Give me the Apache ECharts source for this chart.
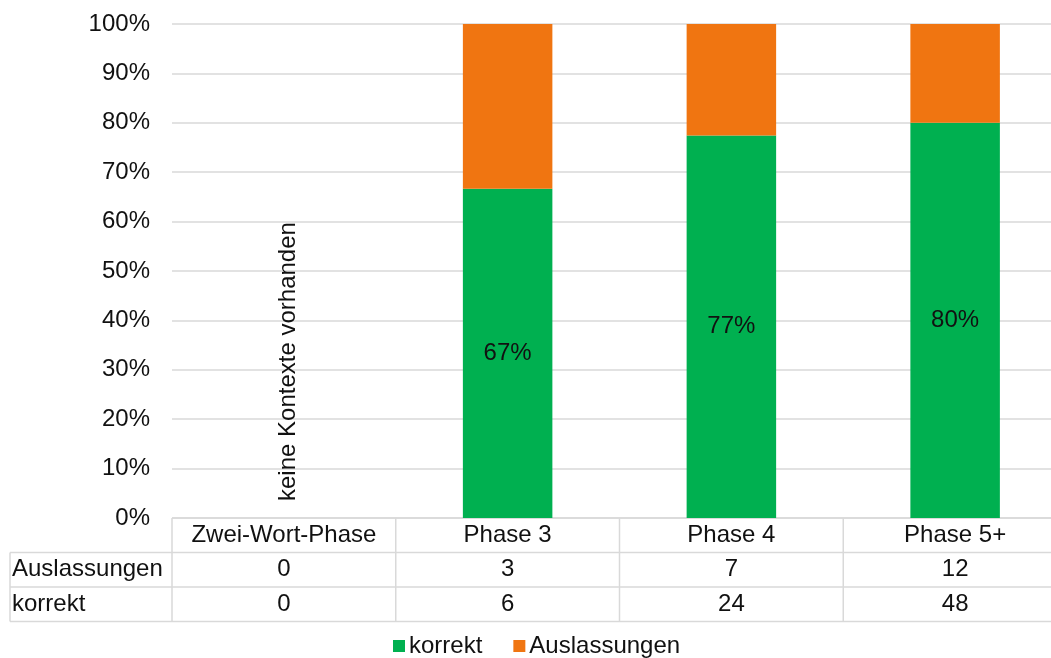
<!DOCTYPE html>
<html>
<head>
<meta charset="utf-8">
<script src="https://cdn.jsdelivr.net/npm/echarts@6/dist/echarts.min.js"></script>
<style>
  html, body { margin: 0; padding: 0; background: #fff; }
  #chart { width: 1051px; height: 658px; }
</style>
</head>
<body>
<div id="chart"></div>
<script>
// Phases and raw counts per category
const categories = ['Zwei-Wort-Phase', 'Phase 3', 'Phase 4', 'Phase 5+'];
const auslassungen = [0, 3, 7, 12];
const korrekt = [0, 6, 24, 48];
const yTicks = ['0%', '10%', '20%', '30%', '40%', '50%', '60%', '70%', '80%', '90%', '100%'];
const noDataNote = 'keine Kontexte vorhanden';

const GREEN = '#00B050';
const ORANGE = '#F07511';
const LINE = '#d9d9d9';
const FONT = '"Liberation Sans", Arial, sans-serif';
const FS = 24;

// shares of each category total (100% stacked)
const totals = categories.map((_, i) => korrekt[i] + auslassungen[i]);
const korrektShare = totals.map((t, i) => t ? korrekt[i] / t : 0);
const auslShare = totals.map((t, i) => t ? auslassungen[i] / t : 0);

const chart = echarts.init(document.getElementById('chart'));

chart.setOption({
  animation: false,
  textStyle: { fontFamily: FONT },
  // the last column runs slightly past the right edge of the canvas
  grid: { left: 172, width: 895, top: 24, bottom: 140, outerBoundsMode: 'none', containLabel: false },
  xAxis: {
    type: 'category',
    data: categories,
    axisLine: { show: false },
    axisTick: { show: false },
    axisLabel: { show: false }
  },
  yAxis: {
    type: 'value',
    min: 0,
    max: 1,
    interval: 0.1,
    axisLine: { show: false },
    axisTick: { show: false },
    axisLabel: {
      margin: 22,
      fontSize: FS,
      color: '#111',
      fontFamily: FONT,
      formatter: v => yTicks[Math.round(v * 10)]
    },
    splitLine: { lineStyle: { color: LINE, width: 1.5 } }
  },
  legend: {
    top: 629,
    left: 388,
    itemWidth: 12,
    itemHeight: 12,
    itemGap: 31,
    icon: 'rect',
    textStyle: { fontSize: FS, color: '#111', fontFamily: FONT, padding: [0, 0, 0, -1] },
    data: ['korrekt', 'Auslassungen']
  },
  series: [
    {
      name: 'korrekt',
      type: 'bar',
      stack: 'total',
      barWidth: '40%',
      itemStyle: { color: GREEN },
      label: {
        show: true,
        position: 'inside',
        fontSize: 24,
        color: '#111',
        fontFamily: FONT,
        formatter: p => p.value > 0 ? Math.round(p.value * 100) + '%' : ''
      },
      data: korrektShare
    },
    {
      name: 'Auslassungen',
      type: 'bar',
      stack: 'total',
      barWidth: '40%',
      itemStyle: { color: ORANGE },
      data: auslShare
    }
  ]
});

// Data table beneath the plot, aligned to the category axis
function buildTable() {
  const g = [];
  const x = i => chart.convertToPixel({ xAxisIndex: 0 }, i);
  const y0 = chart.convertToPixel({ yAxisIndex: 0 }, 0);
  const step = x(1) - x(0);
  const plotLeft = x(0) - step / 2;
  const plotRight = x(categories.length - 1) + step / 2;
  const rowH = 34.5;
  const rows = [y0, y0 + rowH, y0 + 2 * rowH, y0 + 3 * rowH];
  const tableLeft = 10;
  const lineStyle = { stroke: LINE, lineWidth: 1.5 };

  // horizontal rules
  g.push({ type: 'line', shape: { x1: plotLeft, y1: rows[0], x2: plotRight, y2: rows[0] }, style: lineStyle, silent: true });
  for (let r = 1; r < rows.length; r++) {
    g.push({ type: 'line', shape: { x1: tableLeft, y1: rows[r], x2: plotRight, y2: rows[r] }, style: lineStyle, silent: true });
  }
  // vertical rules
  g.push({ type: 'line', shape: { x1: tableLeft, y1: rows[1], x2: tableLeft, y2: rows[3] }, style: lineStyle, silent: true });
  for (let i = 0; i <= categories.length; i++) {
    const vx = plotLeft + i * step;
    g.push({ type: 'line', shape: { x1: vx, y1: rows[0], x2: vx, y2: rows[3] }, style: lineStyle, silent: true });
  }

  const cellText = (txt, cx, cy, align) => ({
    type: 'text',
    x: cx, y: cy,
    silent: true,
    style: { text: txt, fontSize: FS, fontFamily: FONT, fill: '#111', align: align || 'center', verticalAlign: 'middle' }
  });

  categories.forEach((c, i) => {
    g.push(cellText(c, x(i), (rows[0] + rows[1]) / 2));
    g.push(cellText(String(auslassungen[i]), x(i), (rows[1] + rows[2]) / 2));
    g.push(cellText(String(korrekt[i]), x(i), (rows[2] + rows[3]) / 2));
  });
  g.push(cellText('Auslassungen', tableLeft + 2, (rows[1] + rows[2]) / 2, 'left'));
  g.push(cellText('korrekt', tableLeft + 2, (rows[2] + rows[3]) / 2, 'left'));

  // note for the category without any contexts
  totals.forEach((t, i) => {
    if (t === 0) {
      g.push({
        type: 'text',
        x: x(i) + 4,
        y: y0 - 17,
        rotation: Math.PI / 2,
        silent: true,
        style: { text: noDataNote, fontSize: FS, fontFamily: FONT, fill: '#111', align: 'left', verticalAlign: 'middle' }
      });
    }
  });

  chart.setOption({ graphic: g });
}
buildTable();
</script>
</body>
</html>
